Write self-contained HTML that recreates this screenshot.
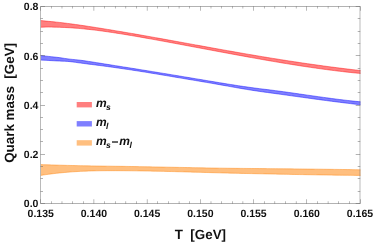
<!DOCTYPE html>
<html><head><meta charset="utf-8"><style>
html,body{margin:0;padding:0;background:#fff;}
svg{display:block;will-change:transform;}
text{font-family:"Liberation Sans",sans-serif;font-weight:bold;fill:#111;text-rendering:geometricPrecision;}
.tk{font-size:10.5px;}
.ax{font-size:13.4px;}
.lg{font-size:12px;font-style:italic;}
.sb{font-size:8.6px;}
</style></head><body>
<svg width="373" height="244" viewBox="0 0 373 244">
<defs><clipPath id="cp"><rect x="40.7" y="6.45" width="319.8" height="197.0"/></clipPath></defs>
<rect width="373" height="244" fill="#fff"/>
<g clip-path="url(#cp)"><polygon points="40.7,20.55 43.4,20.82 46.0,21.08 48.7,21.34 51.4,21.60 54.0,21.86 56.7,22.14 59.4,22.42 62.1,22.72 64.7,23.05 67.4,23.39 70.1,23.74 72.7,24.10 75.4,24.46 78.1,24.84 80.7,25.22 83.4,25.61 86.1,26.01 88.7,26.42 91.4,26.83 94.1,27.24 96.8,27.66 99.4,28.09 102.1,28.52 104.8,28.95 107.4,29.38 110.1,29.82 112.8,30.26 115.4,30.71 118.1,31.15 120.8,31.60 123.4,32.04 126.1,32.50 128.8,32.95 131.5,33.41 134.1,33.87 136.8,34.33 139.5,34.80 142.1,35.27 144.8,35.74 147.5,36.21 150.1,36.68 152.8,37.16 155.5,37.63 158.1,38.11 160.8,38.59 163.5,39.07 166.2,39.55 168.8,40.04 171.5,40.52 174.2,41.00 176.8,41.49 179.5,41.97 182.2,42.46 184.8,42.94 187.5,43.43 190.2,43.91 192.8,44.40 195.5,44.88 198.2,45.37 200.9,45.85 203.5,46.34 206.2,46.82 208.9,47.30 211.5,47.79 214.2,48.27 216.9,48.75 219.5,49.22 222.2,49.70 224.9,50.18 227.5,50.65 230.2,51.12 232.9,51.59 235.5,52.06 238.2,52.53 240.9,53.00 243.6,53.46 246.2,53.92 248.9,54.38 251.6,54.83 254.2,55.29 256.9,55.74 259.6,56.18 262.2,56.63 264.9,57.07 267.6,57.51 270.2,57.94 272.9,58.38 275.6,58.81 278.3,59.23 280.9,59.66 283.6,60.08 286.3,60.49 288.9,60.91 291.6,61.31 294.3,61.72 296.9,62.12 299.6,62.52 302.3,62.92 304.9,63.31 307.6,63.70 310.3,64.08 313.0,64.46 315.6,64.84 318.3,65.21 321.0,65.58 323.6,65.94 326.3,66.30 329.0,66.65 331.6,67.01 334.3,67.35 337.0,67.69 339.6,68.03 342.3,68.37 345.0,68.69 347.7,69.02 350.3,69.34 353.0,69.65 355.7,69.96 358.3,70.27 361.0,70.57 361.0,73.53 358.3,73.28 355.7,73.02 353.0,72.75 350.3,72.46 347.7,72.18 345.0,71.88 342.3,71.57 339.6,71.26 337.0,70.94 334.3,70.61 331.6,70.28 329.0,69.93 326.3,69.58 323.6,69.23 321.0,68.86 318.3,68.49 315.6,68.12 313.0,67.74 310.3,67.35 307.6,66.95 304.9,66.55 302.3,66.15 299.6,65.74 296.9,65.32 294.3,64.90 291.6,64.47 288.9,64.04 286.3,63.61 283.6,63.17 280.9,62.73 278.3,62.28 275.6,61.83 272.9,61.37 270.2,60.91 267.6,60.45 264.9,59.99 262.2,59.52 259.6,59.05 256.9,58.57 254.2,58.10 251.6,57.62 248.9,57.14 246.2,56.66 243.6,56.17 240.9,55.69 238.2,55.20 235.5,54.71 232.9,54.22 230.2,53.73 227.5,53.23 224.9,52.74 222.2,52.24 219.5,51.74 216.9,51.25 214.2,50.75 211.5,50.25 208.9,49.75 206.2,49.25 203.5,48.75 200.9,48.25 198.2,47.75 195.5,47.25 192.8,46.75 190.2,46.25 187.5,45.75 184.8,45.25 182.2,44.75 179.5,44.25 176.8,43.75 174.2,43.26 171.5,42.76 168.8,42.27 166.2,41.78 163.5,41.29 160.8,40.80 158.1,40.31 155.5,39.83 152.8,39.34 150.1,38.86 147.5,38.38 144.8,37.90 142.1,37.43 139.5,36.96 136.8,36.50 134.1,36.04 131.5,35.58 128.8,35.13 126.1,34.69 123.4,34.26 120.8,33.83 118.1,33.41 115.4,33.00 112.8,32.60 110.1,32.20 107.4,31.81 104.8,31.43 102.1,31.06 99.4,30.71 96.8,30.36 94.1,30.03 91.4,29.72 88.7,29.41 86.1,29.13 83.4,28.86 80.7,28.61 78.1,28.37 75.4,28.16 72.7,27.96 70.1,27.79 67.4,27.63 64.7,27.50 62.1,27.39 59.4,27.29 56.7,27.20 54.0,27.13 51.4,27.08 48.7,27.06 46.0,27.08 43.4,27.13 40.7,27.22" fill="rgb(255,0,0)" fill-opacity="0.5"/>
<polyline points="40.7,20.55 43.4,20.82 46.0,21.08 48.7,21.34 51.4,21.60 54.0,21.86 56.7,22.14 59.4,22.42 62.1,22.72 64.7,23.05 67.4,23.39 70.1,23.74 72.7,24.10 75.4,24.46 78.1,24.84 80.7,25.22 83.4,25.61 86.1,26.01 88.7,26.42 91.4,26.83 94.1,27.24 96.8,27.66 99.4,28.09 102.1,28.52 104.8,28.95 107.4,29.38 110.1,29.82 112.8,30.26 115.4,30.71 118.1,31.15 120.8,31.60 123.4,32.04 126.1,32.50 128.8,32.95 131.5,33.41 134.1,33.87 136.8,34.33 139.5,34.80 142.1,35.27 144.8,35.74 147.5,36.21 150.1,36.68 152.8,37.16 155.5,37.63 158.1,38.11 160.8,38.59 163.5,39.07 166.2,39.55 168.8,40.04 171.5,40.52 174.2,41.00 176.8,41.49 179.5,41.97 182.2,42.46 184.8,42.94 187.5,43.43 190.2,43.91 192.8,44.40 195.5,44.88 198.2,45.37 200.9,45.85 203.5,46.34 206.2,46.82 208.9,47.30 211.5,47.79 214.2,48.27 216.9,48.75 219.5,49.22 222.2,49.70 224.9,50.18 227.5,50.65 230.2,51.12 232.9,51.59 235.5,52.06 238.2,52.53 240.9,53.00 243.6,53.46 246.2,53.92 248.9,54.38 251.6,54.83 254.2,55.29 256.9,55.74 259.6,56.18 262.2,56.63 264.9,57.07 267.6,57.51 270.2,57.94 272.9,58.38 275.6,58.81 278.3,59.23 280.9,59.66 283.6,60.08 286.3,60.49 288.9,60.91 291.6,61.31 294.3,61.72 296.9,62.12 299.6,62.52 302.3,62.92 304.9,63.31 307.6,63.70 310.3,64.08 313.0,64.46 315.6,64.84 318.3,65.21 321.0,65.58 323.6,65.94 326.3,66.30 329.0,66.65 331.6,67.01 334.3,67.35 337.0,67.69 339.6,68.03 342.3,68.37 345.0,68.69 347.7,69.02 350.3,69.34 353.0,69.65 355.7,69.96 358.3,70.27 361.0,70.57" fill="none" stroke="rgb(255,0,0)" stroke-opacity="0.62" stroke-width="0.7"/>
<polyline points="40.7,27.22 43.4,27.13 46.0,27.08 48.7,27.06 51.4,27.08 54.0,27.13 56.7,27.20 59.4,27.29 62.1,27.39 64.7,27.50 67.4,27.63 70.1,27.79 72.7,27.96 75.4,28.16 78.1,28.37 80.7,28.61 83.4,28.86 86.1,29.13 88.7,29.41 91.4,29.72 94.1,30.03 96.8,30.36 99.4,30.71 102.1,31.06 104.8,31.43 107.4,31.81 110.1,32.20 112.8,32.60 115.4,33.00 118.1,33.41 120.8,33.83 123.4,34.26 126.1,34.69 128.8,35.13 131.5,35.58 134.1,36.04 136.8,36.50 139.5,36.96 142.1,37.43 144.8,37.90 147.5,38.38 150.1,38.86 152.8,39.34 155.5,39.83 158.1,40.31 160.8,40.80 163.5,41.29 166.2,41.78 168.8,42.27 171.5,42.76 174.2,43.26 176.8,43.75 179.5,44.25 182.2,44.75 184.8,45.25 187.5,45.75 190.2,46.25 192.8,46.75 195.5,47.25 198.2,47.75 200.9,48.25 203.5,48.75 206.2,49.25 208.9,49.75 211.5,50.25 214.2,50.75 216.9,51.25 219.5,51.74 222.2,52.24 224.9,52.74 227.5,53.23 230.2,53.73 232.9,54.22 235.5,54.71 238.2,55.20 240.9,55.69 243.6,56.17 246.2,56.66 248.9,57.14 251.6,57.62 254.2,58.10 256.9,58.57 259.6,59.05 262.2,59.52 264.9,59.99 267.6,60.45 270.2,60.91 272.9,61.37 275.6,61.83 278.3,62.28 280.9,62.73 283.6,63.17 286.3,63.61 288.9,64.04 291.6,64.47 294.3,64.90 296.9,65.32 299.6,65.74 302.3,66.15 304.9,66.55 307.6,66.95 310.3,67.35 313.0,67.74 315.6,68.12 318.3,68.49 321.0,68.86 323.6,69.23 326.3,69.58 329.0,69.93 331.6,70.28 334.3,70.61 337.0,70.94 339.6,71.26 342.3,71.57 345.0,71.88 347.7,72.18 350.3,72.46 353.0,72.75 355.7,73.02 358.3,73.28 361.0,73.53" fill="none" stroke="rgb(255,0,0)" stroke-opacity="0.62" stroke-width="0.7"/>
<polygon points="40.7,55.52 43.4,55.84 46.0,56.14 48.7,56.41 51.4,56.69 54.0,56.97 56.7,57.28 59.4,57.61 62.1,57.99 64.7,58.41 67.4,58.81 70.1,59.14 72.7,59.41 75.4,59.67 78.1,59.95 80.7,60.26 83.4,60.62 86.1,61.00 88.7,61.40 91.4,61.82 94.1,62.24 96.8,62.66 99.4,63.09 102.1,63.51 104.8,63.94 107.4,64.37 110.1,64.79 112.8,65.22 115.4,65.64 118.1,66.07 120.8,66.49 123.4,66.91 126.1,67.34 128.8,67.76 131.5,68.19 134.1,68.61 136.8,69.04 139.5,69.47 142.1,69.90 144.8,70.33 147.5,70.77 150.1,71.20 152.8,71.63 155.5,72.07 158.1,72.50 160.8,72.94 163.5,73.38 166.2,73.82 168.8,74.25 171.5,74.69 174.2,75.13 176.8,75.58 179.5,76.02 182.2,76.46 184.8,76.90 187.5,77.35 190.2,77.79 192.8,78.24 195.5,78.68 198.2,79.13 200.9,79.57 203.5,80.02 206.2,80.46 208.9,80.91 211.5,81.35 214.2,81.80 216.9,82.24 219.5,82.68 222.2,83.12 224.9,83.55 227.5,83.99 230.2,84.41 232.9,84.84 235.5,85.25 238.2,85.67 240.9,86.07 243.6,86.47 246.2,86.85 248.9,87.23 251.6,87.60 254.2,87.95 256.9,88.30 259.6,88.64 262.2,88.97 264.9,89.29 267.6,89.62 270.2,89.95 272.9,90.29 275.6,90.64 278.3,90.99 280.9,91.35 283.6,91.71 286.3,92.08 288.9,92.45 291.6,92.83 294.3,93.21 296.9,93.59 299.6,93.97 302.3,94.36 304.9,94.74 307.6,95.13 310.3,95.51 313.0,95.89 315.6,96.27 318.3,96.65 321.0,97.02 323.6,97.39 326.3,97.76 329.0,98.12 331.6,98.48 334.3,98.83 337.0,99.17 339.6,99.51 342.3,99.83 345.0,100.15 347.7,100.46 350.3,100.76 353.0,101.05 355.7,101.33 358.3,101.59 361.0,101.85 361.0,104.84 358.3,104.54 355.7,104.24 353.0,103.93 350.3,103.61 347.7,103.29 345.0,102.97 342.3,102.64 339.6,102.31 337.0,101.97 334.3,101.63 331.6,101.29 329.0,100.94 326.3,100.59 323.6,100.23 321.0,99.88 318.3,99.52 315.6,99.16 313.0,98.80 310.3,98.43 307.6,98.07 304.9,97.70 302.3,97.33 299.6,96.96 296.9,96.59 294.3,96.22 291.6,95.85 288.9,95.48 286.3,95.11 283.6,94.74 280.9,94.37 278.3,94.00 275.6,93.63 272.9,93.27 270.2,92.90 267.6,92.54 264.9,92.17 262.2,91.80 259.6,91.43 256.9,91.04 254.2,90.64 251.6,90.23 248.9,89.81 246.2,89.37 243.6,88.92 240.9,88.47 238.2,88.01 235.5,87.54 232.9,87.07 230.2,86.59 227.5,86.11 224.9,85.63 222.2,85.15 219.5,84.68 216.9,84.20 214.2,83.74 211.5,83.27 208.9,82.81 206.2,82.36 203.5,81.90 200.9,81.45 198.2,81.00 195.5,80.55 192.8,80.11 190.2,79.66 187.5,79.21 184.8,78.77 182.2,78.32 179.5,77.87 176.8,77.42 174.2,76.97 171.5,76.52 168.8,76.07 166.2,75.62 163.5,75.17 160.8,74.72 158.1,74.28 155.5,73.83 152.8,73.39 150.1,72.96 147.5,72.52 144.8,72.09 142.1,71.67 139.5,71.24 136.8,70.83 134.1,70.41 131.5,70.01 128.8,69.60 126.1,69.21 123.4,68.82 120.8,68.43 118.1,68.05 115.4,67.67 112.8,67.30 110.1,66.93 107.4,66.56 104.8,66.20 102.1,65.84 99.4,65.49 96.8,65.14 94.1,64.80 91.4,64.46 88.7,64.13 86.1,63.79 83.4,63.45 80.7,63.10 78.1,62.74 75.4,62.35 72.7,61.98 70.1,61.65 67.4,61.40 64.7,61.25 62.1,61.17 59.4,61.06 56.7,60.94 54.0,60.79 51.4,60.64 48.7,60.49 46.0,60.34 43.4,60.20 40.7,60.08" fill="rgb(0,0,255)" fill-opacity="0.5"/>
<polyline points="40.7,55.52 43.4,55.84 46.0,56.14 48.7,56.41 51.4,56.69 54.0,56.97 56.7,57.28 59.4,57.61 62.1,57.99 64.7,58.41 67.4,58.81 70.1,59.14 72.7,59.41 75.4,59.67 78.1,59.95 80.7,60.26 83.4,60.62 86.1,61.00 88.7,61.40 91.4,61.82 94.1,62.24 96.8,62.66 99.4,63.09 102.1,63.51 104.8,63.94 107.4,64.37 110.1,64.79 112.8,65.22 115.4,65.64 118.1,66.07 120.8,66.49 123.4,66.91 126.1,67.34 128.8,67.76 131.5,68.19 134.1,68.61 136.8,69.04 139.5,69.47 142.1,69.90 144.8,70.33 147.5,70.77 150.1,71.20 152.8,71.63 155.5,72.07 158.1,72.50 160.8,72.94 163.5,73.38 166.2,73.82 168.8,74.25 171.5,74.69 174.2,75.13 176.8,75.58 179.5,76.02 182.2,76.46 184.8,76.90 187.5,77.35 190.2,77.79 192.8,78.24 195.5,78.68 198.2,79.13 200.9,79.57 203.5,80.02 206.2,80.46 208.9,80.91 211.5,81.35 214.2,81.80 216.9,82.24 219.5,82.68 222.2,83.12 224.9,83.55 227.5,83.99 230.2,84.41 232.9,84.84 235.5,85.25 238.2,85.67 240.9,86.07 243.6,86.47 246.2,86.85 248.9,87.23 251.6,87.60 254.2,87.95 256.9,88.30 259.6,88.64 262.2,88.97 264.9,89.29 267.6,89.62 270.2,89.95 272.9,90.29 275.6,90.64 278.3,90.99 280.9,91.35 283.6,91.71 286.3,92.08 288.9,92.45 291.6,92.83 294.3,93.21 296.9,93.59 299.6,93.97 302.3,94.36 304.9,94.74 307.6,95.13 310.3,95.51 313.0,95.89 315.6,96.27 318.3,96.65 321.0,97.02 323.6,97.39 326.3,97.76 329.0,98.12 331.6,98.48 334.3,98.83 337.0,99.17 339.6,99.51 342.3,99.83 345.0,100.15 347.7,100.46 350.3,100.76 353.0,101.05 355.7,101.33 358.3,101.59 361.0,101.85" fill="none" stroke="rgb(0,0,255)" stroke-opacity="0.62" stroke-width="0.7"/>
<polyline points="40.7,60.08 43.4,60.20 46.0,60.34 48.7,60.49 51.4,60.64 54.0,60.79 56.7,60.94 59.4,61.06 62.1,61.17 64.7,61.25 67.4,61.40 70.1,61.65 72.7,61.98 75.4,62.35 78.1,62.74 80.7,63.10 83.4,63.45 86.1,63.79 88.7,64.13 91.4,64.46 94.1,64.80 96.8,65.14 99.4,65.49 102.1,65.84 104.8,66.20 107.4,66.56 110.1,66.93 112.8,67.30 115.4,67.67 118.1,68.05 120.8,68.43 123.4,68.82 126.1,69.21 128.8,69.60 131.5,70.01 134.1,70.41 136.8,70.83 139.5,71.24 142.1,71.67 144.8,72.09 147.5,72.52 150.1,72.96 152.8,73.39 155.5,73.83 158.1,74.28 160.8,74.72 163.5,75.17 166.2,75.62 168.8,76.07 171.5,76.52 174.2,76.97 176.8,77.42 179.5,77.87 182.2,78.32 184.8,78.77 187.5,79.21 190.2,79.66 192.8,80.11 195.5,80.55 198.2,81.00 200.9,81.45 203.5,81.90 206.2,82.36 208.9,82.81 211.5,83.27 214.2,83.74 216.9,84.20 219.5,84.68 222.2,85.15 224.9,85.63 227.5,86.11 230.2,86.59 232.9,87.07 235.5,87.54 238.2,88.01 240.9,88.47 243.6,88.92 246.2,89.37 248.9,89.81 251.6,90.23 254.2,90.64 256.9,91.04 259.6,91.43 262.2,91.80 264.9,92.17 267.6,92.54 270.2,92.90 272.9,93.27 275.6,93.63 278.3,94.00 280.9,94.37 283.6,94.74 286.3,95.11 288.9,95.48 291.6,95.85 294.3,96.22 296.9,96.59 299.6,96.96 302.3,97.33 304.9,97.70 307.6,98.07 310.3,98.43 313.0,98.80 315.6,99.16 318.3,99.52 321.0,99.88 323.6,100.23 326.3,100.59 329.0,100.94 331.6,101.29 334.3,101.63 337.0,101.97 339.6,102.31 342.3,102.64 345.0,102.97 347.7,103.29 350.3,103.61 353.0,103.93 355.7,104.24 358.3,104.54 361.0,104.84" fill="none" stroke="rgb(0,0,255)" stroke-opacity="0.62" stroke-width="0.7"/>
<polygon points="40.7,164.56 43.4,164.65 46.0,164.73 48.7,164.82 51.4,164.90 54.0,164.98 56.7,165.07 59.4,165.15 62.1,165.23 64.7,165.30 67.4,165.38 70.1,165.45 72.7,165.52 75.4,165.58 78.1,165.64 80.7,165.70 83.4,165.75 86.1,165.81 88.7,165.85 91.4,165.90 94.1,165.95 96.8,165.99 99.4,166.03 102.1,166.07 104.8,166.11 107.4,166.14 110.1,166.18 112.8,166.22 115.4,166.26 118.1,166.29 120.8,166.33 123.4,166.37 126.1,166.41 128.8,166.46 131.5,166.50 134.1,166.55 136.8,166.59 139.5,166.64 142.1,166.68 144.8,166.73 147.5,166.78 150.1,166.83 152.8,166.88 155.5,166.93 158.1,166.98 160.8,167.03 163.5,167.08 166.2,167.14 168.8,167.19 171.5,167.24 174.2,167.29 176.8,167.35 179.5,167.40 182.2,167.45 184.8,167.50 187.5,167.56 190.2,167.61 192.8,167.66 195.5,167.71 198.2,167.76 200.9,167.81 203.5,167.86 206.2,167.91 208.9,167.95 211.5,168.00 214.2,168.04 216.9,168.09 219.5,168.13 222.2,168.17 224.9,168.20 227.5,168.24 230.2,168.27 232.9,168.31 235.5,168.33 238.2,168.36 240.9,168.39 243.6,168.42 246.2,168.44 248.9,168.46 251.6,168.49 254.2,168.51 256.9,168.53 259.6,168.56 262.2,168.58 264.9,168.60 267.6,168.63 270.2,168.65 272.9,168.68 275.6,168.70 278.3,168.73 280.9,168.75 283.6,168.78 286.3,168.81 288.9,168.83 291.6,168.86 294.3,168.89 296.9,168.92 299.6,168.95 302.3,168.98 304.9,169.01 307.6,169.04 310.3,169.07 313.0,169.10 315.6,169.14 318.3,169.17 321.0,169.20 323.6,169.24 326.3,169.27 329.0,169.30 331.6,169.34 334.3,169.38 337.0,169.41 339.6,169.45 342.3,169.49 345.0,169.53 347.7,169.56 350.3,169.60 353.0,169.64 355.7,169.68 358.3,169.72 361.0,169.76 361.0,175.43 358.3,175.41 355.7,175.39 353.0,175.37 350.3,175.34 347.7,175.31 345.0,175.28 342.3,175.25 339.6,175.22 337.0,175.18 334.3,175.14 331.6,175.11 329.0,175.07 326.3,175.03 323.6,174.99 321.0,174.94 318.3,174.90 315.6,174.86 313.0,174.81 310.3,174.76 307.6,174.72 304.9,174.67 302.3,174.62 299.6,174.57 296.9,174.52 294.3,174.47 291.6,174.42 288.9,174.36 286.3,174.31 283.6,174.26 280.9,174.21 278.3,174.15 275.6,174.10 272.9,174.04 270.2,173.99 267.6,173.94 264.9,173.88 262.2,173.83 259.6,173.77 256.9,173.72 254.2,173.66 251.6,173.61 248.9,173.55 246.2,173.50 243.6,173.44 240.9,173.38 238.2,173.32 235.5,173.26 232.9,173.20 230.2,173.14 227.5,173.07 224.9,173.00 222.2,172.94 219.5,172.87 216.9,172.79 214.2,172.72 211.5,172.65 208.9,172.57 206.2,172.50 203.5,172.42 200.9,172.35 198.2,172.27 195.5,172.20 192.8,172.13 190.2,172.05 187.5,171.98 184.8,171.90 182.2,171.83 179.5,171.76 176.8,171.69 174.2,171.62 171.5,171.56 168.8,171.49 166.2,171.43 163.5,171.37 160.8,171.31 158.1,171.25 155.5,171.19 152.8,171.14 150.1,171.09 147.5,171.04 144.8,171.00 142.1,170.95 139.5,170.91 136.8,170.87 134.1,170.84 131.5,170.81 128.8,170.78 126.1,170.76 123.4,170.73 120.8,170.72 118.1,170.70 115.4,170.69 112.8,170.69 110.1,170.69 107.4,170.70 104.8,170.72 102.1,170.74 99.4,170.78 96.8,170.83 94.1,170.88 91.4,170.95 88.7,171.03 86.1,171.13 83.4,171.24 80.7,171.36 78.1,171.51 75.4,171.66 72.7,171.84 70.1,172.03 67.4,172.25 64.7,172.47 62.1,172.72 59.4,172.99 56.7,173.27 54.0,173.58 51.4,173.90 48.7,174.25 46.0,174.61 43.4,174.99 40.7,175.40" fill="rgb(255,128,0)" fill-opacity="0.5"/>
<polyline points="40.7,164.56 43.4,164.65 46.0,164.73 48.7,164.82 51.4,164.90 54.0,164.98 56.7,165.07 59.4,165.15 62.1,165.23 64.7,165.30 67.4,165.38 70.1,165.45 72.7,165.52 75.4,165.58 78.1,165.64 80.7,165.70 83.4,165.75 86.1,165.81 88.7,165.85 91.4,165.90 94.1,165.95 96.8,165.99 99.4,166.03 102.1,166.07 104.8,166.11 107.4,166.14 110.1,166.18 112.8,166.22 115.4,166.26 118.1,166.29 120.8,166.33 123.4,166.37 126.1,166.41 128.8,166.46 131.5,166.50 134.1,166.55 136.8,166.59 139.5,166.64 142.1,166.68 144.8,166.73 147.5,166.78 150.1,166.83 152.8,166.88 155.5,166.93 158.1,166.98 160.8,167.03 163.5,167.08 166.2,167.14 168.8,167.19 171.5,167.24 174.2,167.29 176.8,167.35 179.5,167.40 182.2,167.45 184.8,167.50 187.5,167.56 190.2,167.61 192.8,167.66 195.5,167.71 198.2,167.76 200.9,167.81 203.5,167.86 206.2,167.91 208.9,167.95 211.5,168.00 214.2,168.04 216.9,168.09 219.5,168.13 222.2,168.17 224.9,168.20 227.5,168.24 230.2,168.27 232.9,168.31 235.5,168.33 238.2,168.36 240.9,168.39 243.6,168.42 246.2,168.44 248.9,168.46 251.6,168.49 254.2,168.51 256.9,168.53 259.6,168.56 262.2,168.58 264.9,168.60 267.6,168.63 270.2,168.65 272.9,168.68 275.6,168.70 278.3,168.73 280.9,168.75 283.6,168.78 286.3,168.81 288.9,168.83 291.6,168.86 294.3,168.89 296.9,168.92 299.6,168.95 302.3,168.98 304.9,169.01 307.6,169.04 310.3,169.07 313.0,169.10 315.6,169.14 318.3,169.17 321.0,169.20 323.6,169.24 326.3,169.27 329.0,169.30 331.6,169.34 334.3,169.38 337.0,169.41 339.6,169.45 342.3,169.49 345.0,169.53 347.7,169.56 350.3,169.60 353.0,169.64 355.7,169.68 358.3,169.72 361.0,169.76" fill="none" stroke="rgb(255,128,0)" stroke-opacity="0.62" stroke-width="0.7"/>
<polyline points="40.7,175.40 43.4,174.99 46.0,174.61 48.7,174.25 51.4,173.90 54.0,173.58 56.7,173.27 59.4,172.99 62.1,172.72 64.7,172.47 67.4,172.25 70.1,172.03 72.7,171.84 75.4,171.66 78.1,171.51 80.7,171.36 83.4,171.24 86.1,171.13 88.7,171.03 91.4,170.95 94.1,170.88 96.8,170.83 99.4,170.78 102.1,170.74 104.8,170.72 107.4,170.70 110.1,170.69 112.8,170.69 115.4,170.69 118.1,170.70 120.8,170.72 123.4,170.73 126.1,170.76 128.8,170.78 131.5,170.81 134.1,170.84 136.8,170.87 139.5,170.91 142.1,170.95 144.8,171.00 147.5,171.04 150.1,171.09 152.8,171.14 155.5,171.19 158.1,171.25 160.8,171.31 163.5,171.37 166.2,171.43 168.8,171.49 171.5,171.56 174.2,171.62 176.8,171.69 179.5,171.76 182.2,171.83 184.8,171.90 187.5,171.98 190.2,172.05 192.8,172.13 195.5,172.20 198.2,172.27 200.9,172.35 203.5,172.42 206.2,172.50 208.9,172.57 211.5,172.65 214.2,172.72 216.9,172.79 219.5,172.87 222.2,172.94 224.9,173.00 227.5,173.07 230.2,173.14 232.9,173.20 235.5,173.26 238.2,173.32 240.9,173.38 243.6,173.44 246.2,173.50 248.9,173.55 251.6,173.61 254.2,173.66 256.9,173.72 259.6,173.77 262.2,173.83 264.9,173.88 267.6,173.94 270.2,173.99 272.9,174.04 275.6,174.10 278.3,174.15 280.9,174.21 283.6,174.26 286.3,174.31 288.9,174.36 291.6,174.42 294.3,174.47 296.9,174.52 299.6,174.57 302.3,174.62 304.9,174.67 307.6,174.72 310.3,174.76 313.0,174.81 315.6,174.86 318.3,174.90 321.0,174.94 323.6,174.99 326.3,175.03 329.0,175.07 331.6,175.11 334.3,175.14 337.0,175.18 339.6,175.22 342.3,175.25 345.0,175.28 347.7,175.31 350.3,175.34 353.0,175.37 355.7,175.39 358.3,175.41 361.0,175.43" fill="none" stroke="rgb(255,128,0)" stroke-opacity="0.62" stroke-width="0.7"/>
</g><path d="M40.475 6.225h0.45v197.450h-0.45zM359.775 6.225h0.45v197.450h-0.45zM40.700 6.225h319.300v0.45h-319.300zM40.700 203.225h319.300v0.45h-319.300z" fill="#666"/>
<path d="M40.475 199.250h0.45v4.425h-0.45zM40.475 6.225h0.45v4.425h-0.45zM51.118 201.350h0.45v2.325h-0.45zM51.118 6.225h0.45v2.325h-0.45zM61.762 201.350h0.45v2.325h-0.45zM61.762 6.225h0.45v2.325h-0.45zM72.405 201.350h0.45v2.325h-0.45zM72.405 6.225h0.45v2.325h-0.45zM83.048 201.350h0.45v2.325h-0.45zM83.048 6.225h0.45v2.325h-0.45zM93.692 199.250h0.45v4.425h-0.45zM93.692 6.225h0.45v4.425h-0.45zM104.335 201.350h0.45v2.325h-0.45zM104.335 6.225h0.45v2.325h-0.45zM114.978 201.350h0.45v2.325h-0.45zM114.978 6.225h0.45v2.325h-0.45zM125.622 201.350h0.45v2.325h-0.45zM125.622 6.225h0.45v2.325h-0.45zM136.265 201.350h0.45v2.325h-0.45zM136.265 6.225h0.45v2.325h-0.45zM146.908 199.250h0.45v4.425h-0.45zM146.908 6.225h0.45v4.425h-0.45zM157.552 201.350h0.45v2.325h-0.45zM157.552 6.225h0.45v2.325h-0.45zM168.195 201.350h0.45v2.325h-0.45zM168.195 6.225h0.45v2.325h-0.45zM178.838 201.350h0.45v2.325h-0.45zM178.838 6.225h0.45v2.325h-0.45zM189.482 201.350h0.45v2.325h-0.45zM189.482 6.225h0.45v2.325h-0.45zM200.125 199.250h0.45v4.425h-0.45zM200.125 6.225h0.45v4.425h-0.45zM210.768 201.350h0.45v2.325h-0.45zM210.768 6.225h0.45v2.325h-0.45zM221.412 201.350h0.45v2.325h-0.45zM221.412 6.225h0.45v2.325h-0.45zM232.055 201.350h0.45v2.325h-0.45zM232.055 6.225h0.45v2.325h-0.45zM242.698 201.350h0.45v2.325h-0.45zM242.698 6.225h0.45v2.325h-0.45zM253.342 199.250h0.45v4.425h-0.45zM253.342 6.225h0.45v4.425h-0.45zM263.985 201.350h0.45v2.325h-0.45zM263.985 6.225h0.45v2.325h-0.45zM274.628 201.350h0.45v2.325h-0.45zM274.628 6.225h0.45v2.325h-0.45zM285.272 201.350h0.45v2.325h-0.45zM285.272 6.225h0.45v2.325h-0.45zM295.915 201.350h0.45v2.325h-0.45zM295.915 6.225h0.45v2.325h-0.45zM306.558 199.250h0.45v4.425h-0.45zM306.558 6.225h0.45v4.425h-0.45zM317.202 201.350h0.45v2.325h-0.45zM317.202 6.225h0.45v2.325h-0.45zM327.845 201.350h0.45v2.325h-0.45zM327.845 6.225h0.45v2.325h-0.45zM338.488 201.350h0.45v2.325h-0.45zM338.488 6.225h0.45v2.325h-0.45zM349.132 201.350h0.45v2.325h-0.45zM349.132 6.225h0.45v2.325h-0.45zM360.055 199.250h0.45v4.425h-0.45zM360.055 6.225h0.45v4.425h-0.45zM40.475 203.275h4.525v0.45h-4.525zM355.700 203.275h4.525v0.45h-4.525zM40.475 191.275h2.525v0.45h-2.525zM357.700 191.275h2.525v0.45h-2.525zM40.475 178.275h2.525v0.45h-2.525zM357.700 178.275h2.525v0.45h-2.525zM40.475 166.275h2.525v0.45h-2.525zM357.700 166.275h2.525v0.45h-2.525zM40.475 154.275h4.525v0.45h-4.525zM355.700 154.275h4.525v0.45h-4.525zM40.475 141.275h2.525v0.45h-2.525zM357.700 141.275h2.525v0.45h-2.525zM40.475 129.275h2.525v0.45h-2.525zM357.700 129.275h2.525v0.45h-2.525zM40.475 117.275h2.525v0.45h-2.525zM357.700 117.275h2.525v0.45h-2.525zM40.475 105.275h4.525v0.45h-4.525zM355.700 105.275h4.525v0.45h-4.525zM40.475 92.275h2.525v0.45h-2.525zM357.700 92.275h2.525v0.45h-2.525zM40.475 80.275h2.525v0.45h-2.525zM357.700 80.275h2.525v0.45h-2.525zM40.475 68.275h2.525v0.45h-2.525zM357.700 68.275h2.525v0.45h-2.525zM40.475 55.275h4.525v0.45h-4.525zM355.700 55.275h4.525v0.45h-4.525zM40.475 43.275h2.525v0.45h-2.525zM357.700 43.275h2.525v0.45h-2.525zM40.475 31.275h2.525v0.45h-2.525zM357.700 31.275h2.525v0.45h-2.525zM40.475 18.275h2.525v0.45h-2.525zM357.700 18.275h2.525v0.45h-2.525zM40.475 6.275h4.525v0.45h-4.525zM355.700 6.275h4.525v0.45h-4.525z" fill="#666"/>
<text transform="translate(40.70,216.50) scale(1.0,1)" text-anchor="middle" class="tk">0.135</text>
<text transform="translate(93.92,216.50) scale(1.0,1)" text-anchor="middle" class="tk">0.140</text>
<text transform="translate(147.13,216.50) scale(1.0,1)" text-anchor="middle" class="tk">0.145</text>
<text transform="translate(200.35,216.50) scale(1.0,1)" text-anchor="middle" class="tk">0.150</text>
<text transform="translate(253.57,216.50) scale(1.0,1)" text-anchor="middle" class="tk">0.155</text>
<text transform="translate(306.78,216.50) scale(1.0,1)" text-anchor="middle" class="tk">0.160</text>
<text transform="translate(360.00,216.50) scale(1.0,1)" text-anchor="middle" class="tk">0.165</text>
<text transform="translate(38.40,206.85) scale(1.0,1)" text-anchor="end" class="tk">0.0</text>
<text transform="translate(38.40,157.70) scale(1.0,1)" text-anchor="end" class="tk">0.2</text>
<text transform="translate(38.40,108.85) scale(1.0,1)" text-anchor="end" class="tk">0.4</text>
<text transform="translate(38.40,60.00) scale(1.0,1)" text-anchor="end" class="tk">0.6</text>
<text transform="translate(38.40,10.05) scale(1.0,1)" text-anchor="end" class="tk">0.8</text><text x="200.4" y="239.3" text-anchor="middle" class="ax" style="white-space:pre">T  [GeV]</text><text transform="translate(14.4,102.9) rotate(-90)" text-anchor="middle" class="ax" style="white-space:pre">Quark mass  [GeV]</text><rect x="76.7" y="102.0" width="15.2" height="5.4" fill="rgb(255,0,0)" fill-opacity="0.5"/>
<text x="96" y="106.6" class="lg">m<tspan dy="3" dx="-0.7" class="sb">s</tspan></text>
<rect x="76.7" y="121.1" width="15.2" height="5.4" fill="rgb(0,0,255)" fill-opacity="0.5"/>
<text x="96" y="126.0" class="lg">m<tspan dy="3" dx="-0.7" class="sb">l</tspan></text>
<rect x="76.7" y="140.2" width="15.2" height="5.4" fill="rgb(255,128,0)" fill-opacity="0.5"/>
<text x="96" y="145.4" class="lg">m<tspan dy="3" dx="-0.7" class="sb">s</tspan><tspan dy="-2.0" dx="0.6">&#8722;</tspan><tspan dy="-1.0" dx="0.9">m</tspan><tspan dy="3" dx="-0.4" class="sb">l</tspan></text>
</svg>
</body></html>
